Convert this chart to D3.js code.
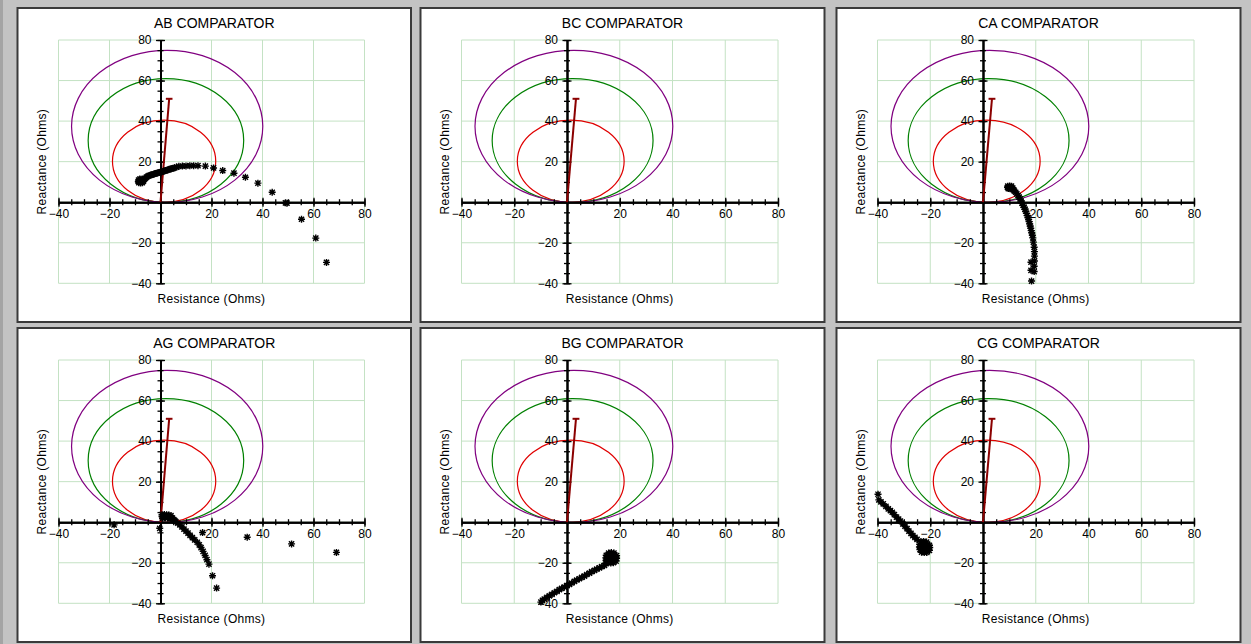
<!DOCTYPE html>
<html>
<head>
<meta charset="utf-8">
<script src="https://cdn.jsdelivr.net/npm/d3@7"></script>
<style>
  body { margin: 0; background: #c3c3c3; }
  svg { display: block; font-family: "Liberation Sans", Arial, sans-serif; }
</style>
</head>
<body>
<svg id="chart" width="1251" height="644"></svg>
<script>
// panel titles, row by row
const panelNames = ["AB COMPARATOR", "BC COMPARATOR", "CA COMPARATOR",
                    "AG COMPARATOR", "BG COMPARATOR", "CG COMPARATOR"];

const gridTicks = [-40, -20, 0, 20, 40, 60, 80];
const labelTicks = [-40, -20, 20, 40, 60, 80];
const minorTicks = d3.range(-40, 81, 5);

// mho zones (diameter in ohms), all at the same relay angle
const zoneReach = [40.5, 61, 75];
const zoneColors = ["#e00000", "#008000", "#800080"];
const relayAngle = 86;
// line impedance end point (R, X)
const lineEnd = [3.4, 51];

// apparent impedance trajectories (R, X)
const trajAB = [
  [-8.5, 9.6], [-7.8, 9.5], [-7.1, 9.6], [-8.7, 10.2], [-8, 10.2], [-7.3, 10.2], [-6.7, 10.4],
  [-8.6, 10.9], [-7.9, 10.9], [-7.2, 10.9], [-6.6, 11], [-8.1, 11.4], [-7.2, 11.4], [-6.3, 11.4],
  [-5.9, 11.8], [-5.5, 12.4], [-5, 12.8], [-4.5, 13.1], [-4, 13.3], [-3.5, 13.5],
  [-3, 13.7], [-2.5, 13.9], [-2, 14.1], [-1.5, 14.3], [-1, 14.5], [-0.5, 14.6],
  [0, 14.8], [0.5, 15], [1, 15.2], [1.5, 15.4], [2, 15.6], [2.5, 15.8], [3, 16],
  [3.5, 16.2], [4, 16.4], [4.5, 16.6], [5, 16.8], [5.6, 17], [6.3, 17.3],
  [7.2, 17.7], [8.6, 17.8], [10, 17.9], [11.5, 18], [13, 18], [14.7, 18],
  [17.6, 17.8], [20.8, 16.9], [24.4, 15.6], [28.8, 14.3], [33.3, 12.3],
  [38.2, 9.4], [43.8, 4.9], [49, -0.3], [49.6, -0.5], [55.3, -8.4],
  [60.9, -17.7], [65.1, -29.7]
];
const trajBC = [];
const trajCA = [
  [9.4, 7.9], [10.1, 8], [10.8, 7.9], [9.3, 7.3], [10, 7.3], [10.7, 7.2], [11.3, 7],
  [9.6, 6.7], [10.3, 6.6], [11, 6.5], [11.6, 6.1], [11.9, 5.5],
  [12.4, 4.9], [12.8, 4.1], [13.3, 3.3], [13.7, 2.5], [14.1, 1.6], [14.4, 0.6],
  [14.8, -0.5], [15.2, -1.5], [15.6, -2.5], [15.9, -3.5], [16.2, -4.4], [16.5, -5.5],
  [16.8, -6.6], [17.1, -7.6], [17.3, -8.5], [17.5, -9.6], [17.7, -10.7], [17.9, -11.8],
  [18.1, -12.8], [18.3, -14], [18.5, -15.1], [18.7, -16.3], [18.9, -17.6],
  [19.1, -19.7], [19.4, -22.2], [19.5, -24.4], [19.5, -26.6], [19.5, -29],
  [18.2, -29.6], [19.4, -31.6], [18.2, -33.6], [19.4, -34.2], [18.4, -38.9]
];
const trajAG = [
  [0.6, 3.7], [1.5, 3.8], [2.4, 3.7], [3.3, 3.5], [4.1, 3.2],
  [0.6, 2.8], [1.5, 2.9], [2.4, 2.9], [3.3, 2.7], [4.1, 2.4], [4.7, 2],
  [0.8, 2], [1.8, 2.1], [2.8, 2.1], [3.8, 1.8], [5.2, 1.3], [5.6, 0.8],
  [6, 0.3], [6.8, -0.5], [7.6, -1.3], [8.4, -2.3], [9.2, -3.4], [10, -4.4],
  [10.8, -5.4], [11.6, -6.5], [12.5, -7.6], [13.4, -8.7], [14.4, -9.9],
  [15.2, -11.2], [15.9, -12.5], [16.7, -14.4], [17.5, -16.4], [18.2, -18.5],
  [19, -20.7], [20.4, -26.4], [22, -32.5],
  [-18.2, -1.3], [-0.3, -3], [16.5, -5.1], [34, -7.4], [51.4, -10.7], [69, -14.9]
];
const trajBG = [
  [15.8, -15.2], [16.8, -15], [17.8, -15.2],
  [14.9, -16.3], [15.9, -16.1], [16.9, -16], [17.9, -16.1], [18.8, -16.5],
  [14.7, -17.6], [15.7, -17.5], [16.7, -17.4], [17.7, -17.5], [18.8, -17.8],
  [14.8, -18.9], [15.8, -18.9], [16.8, -18.9], [17.8, -19], [18.6, -19.2],
  [15.4, -20], [16.6, -20.1], [14.8, -20.5], [17.6, -20],
  [14.2, -21.3], [13.2, -21.9], [12.3, -22.5], [11.3, -23.1], [10.4, -23.8],
  [9.4, -24.4], [8.5, -25.1], [7.5, -25.8], [6.6, -26.6], [5.6, -27.2], [4.7, -27.9],
  [3.7, -28.5], [2.8, -29.2], [1.8, -30], [0.9, -30.7], [0, -31.3], [-1, -32],
  [-2, -32.6], [-2.9, -33.3], [-3.8, -34.1], [-4.8, -34.8], [-5.7, -35.6],
  [-6.7, -36.3], [-7.6, -37.1], [-8.6, -37.9], [-9.3, -38.6], [-9.9, -39.4]
];
const trajCG = [
  [-39.8, 13.8], [-39.5, 11], [-38.7, 10], [-37.8, 9], [-36.8, 7.8], [-35.9, 6.6],
  [-35.1, 5.7], [-34.4, 4.9], [-33.6, 3.7], [-32.8, 2.5], [-32, 1.5], [-31.3, 0.5],
  [-30.4, -0.8], [-29.6, -2], [-28.8, -3.2], [-28.1, -4.4], [-27.3, -5.5],
  [-26.6, -6.6], [-25.8, -7.5], [-25, -8.5],
  [-23.6, -9.6], [-22.5, -9.5], [-21.4, -9.8],
  [-24, -10.9], [-23, -10.8], [-22, -10.8], [-21, -11], [-20.3, -11.4],
  [-24.1, -12.2], [-23.1, -12.1], [-22.1, -12.1], [-21.1, -12.2], [-20.2, -12.5],
  [-23.9, -13.5], [-22.9, -13.5], [-21.9, -13.5], [-20.9, -13.6], [-20.3, -13.9],
  [-23.3, -14.8], [-22.3, -15], [-21.3, -14.9]
];
const trajectories = [trajAB, trajBC, trajCA, trajAG, trajBG, trajCG];

// layout
const colX = [17.5, 420.5, 836.5];
const colW = [393.5, 404, 404];
const rowY = [8, 328];
const panelH = 314;

const svg = d3.select("#chart");
svg.append("rect").attr("x", 0).attr("y", 0).attr("width", 3).attr("height", 644).attr("fill", "#a4a4a4");

const star = (() => {
  const s = 3.5, d = 2.6;
  return `M${-s},0L${s},0M0,${-s}L0,${s}M${-d},${-d}L${d},${d}M${-d},${d}L${d},${-d}`;
})();

panelNames.forEach((name, i) => {
  const col = i % 3, row = Math.floor(i / 3);
  const w = colW[col];
  const g = svg.append("g").attr("transform", `translate(${colX[col]},${rowY[row]})`);

  g.append("rect")
    .attr("width", w).attr("height", panelH)
    .attr("fill", "#fff").attr("stroke", "#3a3a3a").attr("stroke-width", 2);

  const left = 41, top = 32, pw = w - 87.5, ph = 243.3;
  const x = d3.scaleLinear().domain([-40, 80]).range([left, left + pw]);
  const y = d3.scaleLinear().domain([-40, 80]).range([top + ph, top]);

  // grid
  const grid = g.append("g").attr("stroke", "#c4e2c4").attr("stroke-width", 1);
  grid.selectAll(".gv").data(gridTicks).join("line")
    .attr("x1", d => x(d)).attr("x2", d => x(d))
    .attr("y1", y(-40)).attr("y2", y(80));
  grid.selectAll(".gh").data(gridTicks).join("line")
    .attr("y1", d => y(d)).attr("y2", d => y(d))
    .attr("x1", x(-40)).attr("x2", x(80));

  // mho circles
  const a = relayAngle * Math.PI / 180;
  g.append("g").selectAll("ellipse").data(zoneReach).join("ellipse")
    .attr("cx", d => x(d / 2 * Math.cos(a)))
    .attr("cy", d => y(d / 2 * Math.sin(a)))
    .attr("rx", d => x(d / 2) - x(0))
    .attr("ry", d => y(0) - y(d / 2))
    .attr("fill", "none")
    .attr("stroke", (d, k) => zoneColors[k])
    .attr("stroke-width", 1.2);

  // axes crossing at origin, ticks on both sides
  const xAxisMinor = g.append("g").attr("transform", `translate(0,${y(0)})`)
    .call(d3.axisBottom(x).tickValues(minorTicks).tickSize(3).tickSizeOuter(0).tickFormat(""));
  xAxisMinor.selectAll(".tick line").attr("y1", -3);
  const xAxis = g.append("g").attr("transform", `translate(0,${y(0)})`)
    .call(d3.axisBottom(x).tickValues(labelTicks).tickSize(4.5).tickPadding(3).tickSizeOuter(0));
  xAxis.selectAll(".tick line").attr("y1", -4.5);

  const yAxisMinor = g.append("g").attr("transform", `translate(${x(0)},0)`)
    .call(d3.axisLeft(y).tickValues(minorTicks).tickSize(3).tickSizeOuter(0).tickFormat(""));
  yAxisMinor.selectAll(".tick line").attr("x1", 3);
  const yAxis = g.append("g").attr("transform", `translate(${x(0)},0)`)
    .call(d3.axisLeft(y).tickValues(labelTicks).tickSize(4.5).tickPadding(4.5).tickSizeOuter(0));
  yAxis.selectAll(".tick line").attr("x1", 4.5);

  [xAxisMinor, xAxis, yAxisMinor, yAxis].forEach(ax => {
    ax.select(".domain").attr("stroke", "#000").attr("stroke-width", 2);
    ax.selectAll(".tick line").attr("stroke", "#000").attr("stroke-width", 1.3);
    ax.selectAll("text").attr("font-size", 12).attr("fill", "#000")
      .attr("font-family", "Liberation Sans, Arial, sans-serif");
  });

  // line impedance
  g.append("line")
    .attr("x1", x(0)).attr("y1", y(0))
    .attr("x2", x(lineEnd[0])).attr("y2", y(lineEnd[1]))
    .attr("stroke", "#8b0000").attr("stroke-width", 2);
  g.append("line")
    .attr("x1", x(lineEnd[0] - 1.3)).attr("x2", x(lineEnd[0] + 1.3))
    .attr("y1", y(lineEnd[1])).attr("y2", y(lineEnd[1]))
    .attr("stroke", "#8b0000").attr("stroke-width", 2);

  // trajectory markers
  g.append("g").selectAll("path").data(trajectories[i]).join("path")
    .attr("transform", d => `translate(${x(d[0])},${y(d[1])})`)
    .attr("d", star)
    .attr("fill", "none").attr("stroke", "#000").attr("stroke-width", 1.4);

  // texts
  g.append("text")
    .attr("x", w / 2).attr("y", 20)
    .attr("text-anchor", "middle").attr("font-size", 14)
    .text(name);
  g.append("text")
    .attr("x", left + pw / 2).attr("y", 294.5)
    .attr("text-anchor", "middle").attr("font-size", 12)
    .attr("letter-spacing", 0.3)
    .text("Resistance (Ohms)");
  g.append("text")
    .attr("transform", `translate(28.3,${top + ph / 2}) rotate(-90)`)
    .attr("text-anchor", "middle").attr("font-size", 12)
    .attr("letter-spacing", 0.3)
    .text("Reactance (Ohms)");
});
</script>
</body>
</html>
